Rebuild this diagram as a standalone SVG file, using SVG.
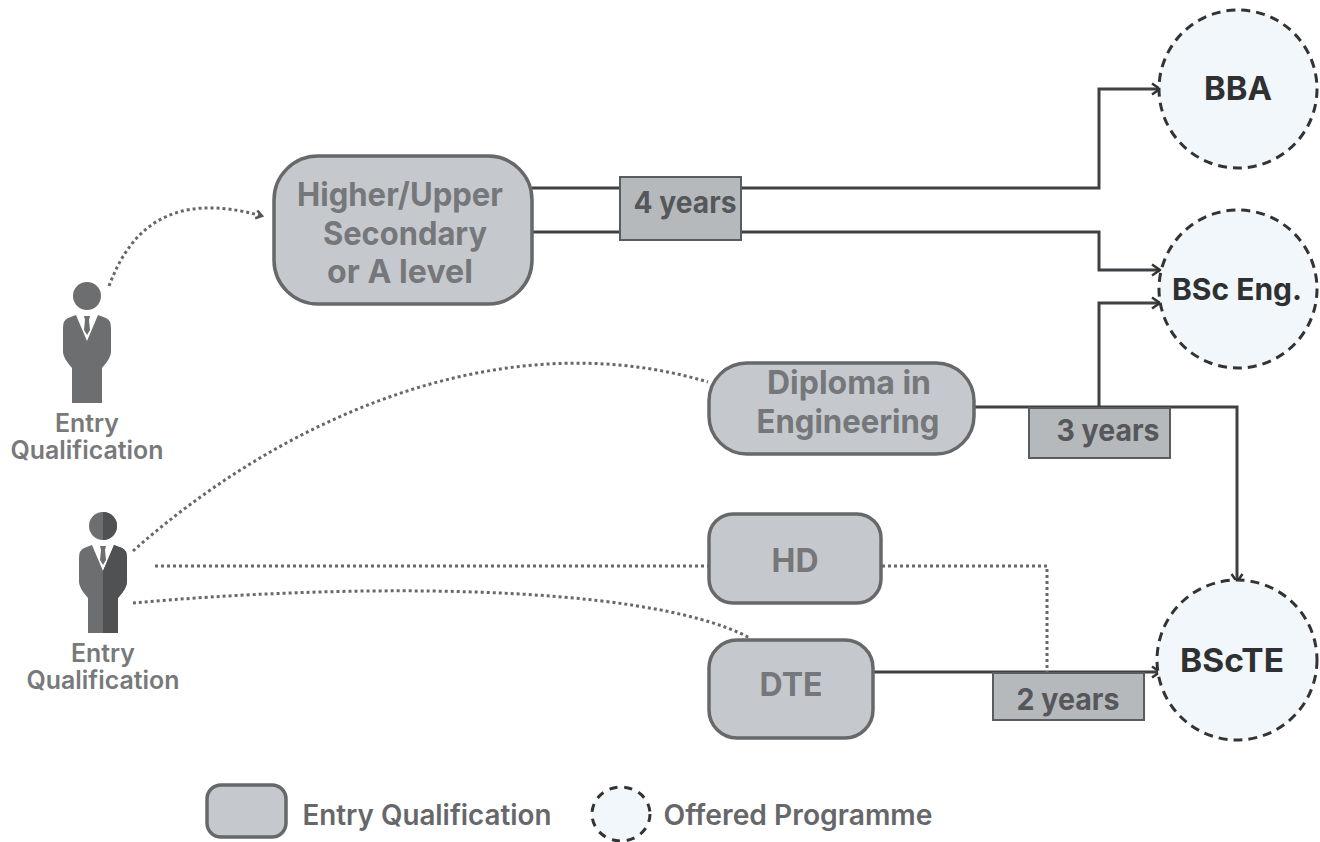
<svg xmlns="http://www.w3.org/2000/svg" width="1320" height="842" viewBox="0 0 1320 842">
<style>
text{font-family:"Inter","Liberation Sans",sans-serif;font-weight:700;text-anchor:middle}
rect.q{fill:#c5c9cd;stroke:#66686a;stroke-width:3.5}
.node text{fill:#75777a;font-size:33px}
.prog circle{fill:#f2f7fb;stroke:#333;stroke-width:3;stroke-dasharray:9 6}
.prog text{fill:#2f3032;font-size:33px}
.dur rect{fill:#b6b9bc;stroke:#5a5c5e;stroke-width:2}
.dur text{fill:#55575a;font-size:30px}
.cap{fill:#77797b;font-size:25px;font-weight:600}
.leg{fill:#65676a;font-size:28px;font-weight:600}
.solid{fill:none;stroke:#3f4042;stroke-width:3;marker-end:url(#arr)}
.dot{fill:none;stroke:#66686a;stroke-width:3;stroke-dasharray:3 3}
.p1{fill:#6c6e70}.p3{fill:#4f5153}
</style>
<defs>
<marker id="arr" markerUnits="userSpaceOnUse" markerWidth="14" markerHeight="14" refX="11" refY="7" orient="auto"><path d="M3 1.5L11 7L3 12.5" fill="none" stroke="#333" stroke-width="2.5"/></marker>
<marker id="arrd" markerUnits="userSpaceOnUse" markerWidth="12" markerHeight="12" refX="9" refY="6" orient="auto"><path d="M3 2L9 6L3 10" fill="none" stroke="#555" stroke-width="2.5"/></marker>
<g id="person">
<circle cx="0" cy="14" r="14" class="p1"/>
<path class="p1" d="M-11 33L-19 36Q-24 38-24 46V70Q-24 76-15 86V121H15V86Q24 76 24 70V46Q24 38 19 36L11 33L0 59Z"/>
<path class="p1" d="M-3 34H3L2 38L3 48L0 53L-3 48L-2 38Z"/>
</g>
</defs>
<g id="connectors">
<path class="solid" d="M532 188H1099V89H1160"/>
<path class="solid" d="M532 232H1099V270H1160"/>
<path class="solid" d="M1099 407V303H1160"/>
<path class="solid" d="M974 407H1237V582"/>
<path class="solid" d="M873 672H1160"/>
<path class="dot" d="M109 286C130 230 170 190 262 216" marker-end="url(#arrd)"/>
<path class="dot" d="M133 551C280 420 500 320 708 382"/>
<path class="dot" d="M155 566H708"/>
<path class="dot" d="M133 603C330 585 640 580 750 638"/>
<path class="dot" d="M882 566H1047V672"/>
</g>
<g id="person-1"><use href="#person" transform="translate(87 282)"/><text class="cap" x="87" y="432" textLength="64" lengthAdjust="spacingAndGlyphs">Entry</text><text class="cap" x="87" y="459" textLength="153" lengthAdjust="spacingAndGlyphs">Qualification</text></g>
<g id="person-2"><use href="#person" transform="translate(103 512)"/><path class="p3" d="M103 512A14 14 0 0 1 103 540ZM106 564L114 545L122 548Q127 550 127 558V582Q127 588 118 598V633H103V571Z"/><text class="cap" x="103" y="662" textLength="64" lengthAdjust="spacingAndGlyphs">Entry</text><text class="cap" x="103" y="689" textLength="153" lengthAdjust="spacingAndGlyphs">Qualification</text></g>
<g id="higher" class="node"><rect class="q" x="274" y="156" width="258" height="148" rx="44"/><text x="400" y="206" textLength="206" lengthAdjust="spacingAndGlyphs">Higher/Upper</text><text x="405" y="245" textLength="164" lengthAdjust="spacingAndGlyphs">Secondary</text><text x="400" y="283" textLength="146" lengthAdjust="spacingAndGlyphs">or A level</text></g>
<g id="diploma" class="node"><rect class="q" x="709" y="363" width="265" height="91" rx="38"/><text x="849" y="394" textLength="164" lengthAdjust="spacingAndGlyphs">Diploma in</text><text x="848" y="433" textLength="183" lengthAdjust="spacingAndGlyphs">Engineering</text></g>
<g id="hd" class="node"><rect class="q" x="709" y="514" width="172" height="89" rx="24"/><text x="795" y="572" textLength="47" lengthAdjust="spacingAndGlyphs">HD</text></g>
<g id="dte" class="node"><rect class="q" x="709" y="640" width="164" height="98" rx="28"/><text x="791" y="696" textLength="63" lengthAdjust="spacingAndGlyphs">DTE</text></g>
<g id="d4" class="dur"><rect x="620" y="177" width="121" height="63"/><text x="685" y="213" textLength="103" lengthAdjust="spacingAndGlyphs">4 years</text></g>
<g id="d3" class="dur"><rect x="1029" y="408" width="141" height="50"/><text x="1108" y="441" textLength="103" lengthAdjust="spacingAndGlyphs">3 years</text></g>
<g id="d2" class="dur"><rect x="993" y="673" width="151" height="47"/><text x="1068" y="710" textLength="103" lengthAdjust="spacingAndGlyphs">2 years</text></g>
<g id="bba" class="prog"><circle cx="1238" cy="89" r="79"/><text x="1238" y="100" textLength="68" lengthAdjust="spacingAndGlyphs">BBA</text></g>
<g id="bsceng" class="prog"><circle cx="1238" cy="289" r="79"/><text x="1237" y="300" style="font-size:30px" textLength="130" lengthAdjust="spacingAndGlyphs">BSc Eng.</text></g>
<g id="bsctte" class="prog"><circle cx="1237" cy="660" r="80"/><text x="1232" y="672" textLength="104" lengthAdjust="spacingAndGlyphs">BScTE</text></g>
<g id="legend-entry"><rect class="q" x="207" y="785" width="79" height="52" rx="14"/><text class="leg" x="427" y="825" textLength="249" lengthAdjust="spacingAndGlyphs">Entry Qualification</text></g>
<g id="legend-prog"><ellipse cx="621" cy="814" rx="29" ry="27" fill="#f2f7fb" stroke="#333" stroke-width="3" stroke-dasharray="8 7"/><text class="leg" x="798" y="825" textLength="269" lengthAdjust="spacingAndGlyphs">Offered Programme</text></g>
</svg>
